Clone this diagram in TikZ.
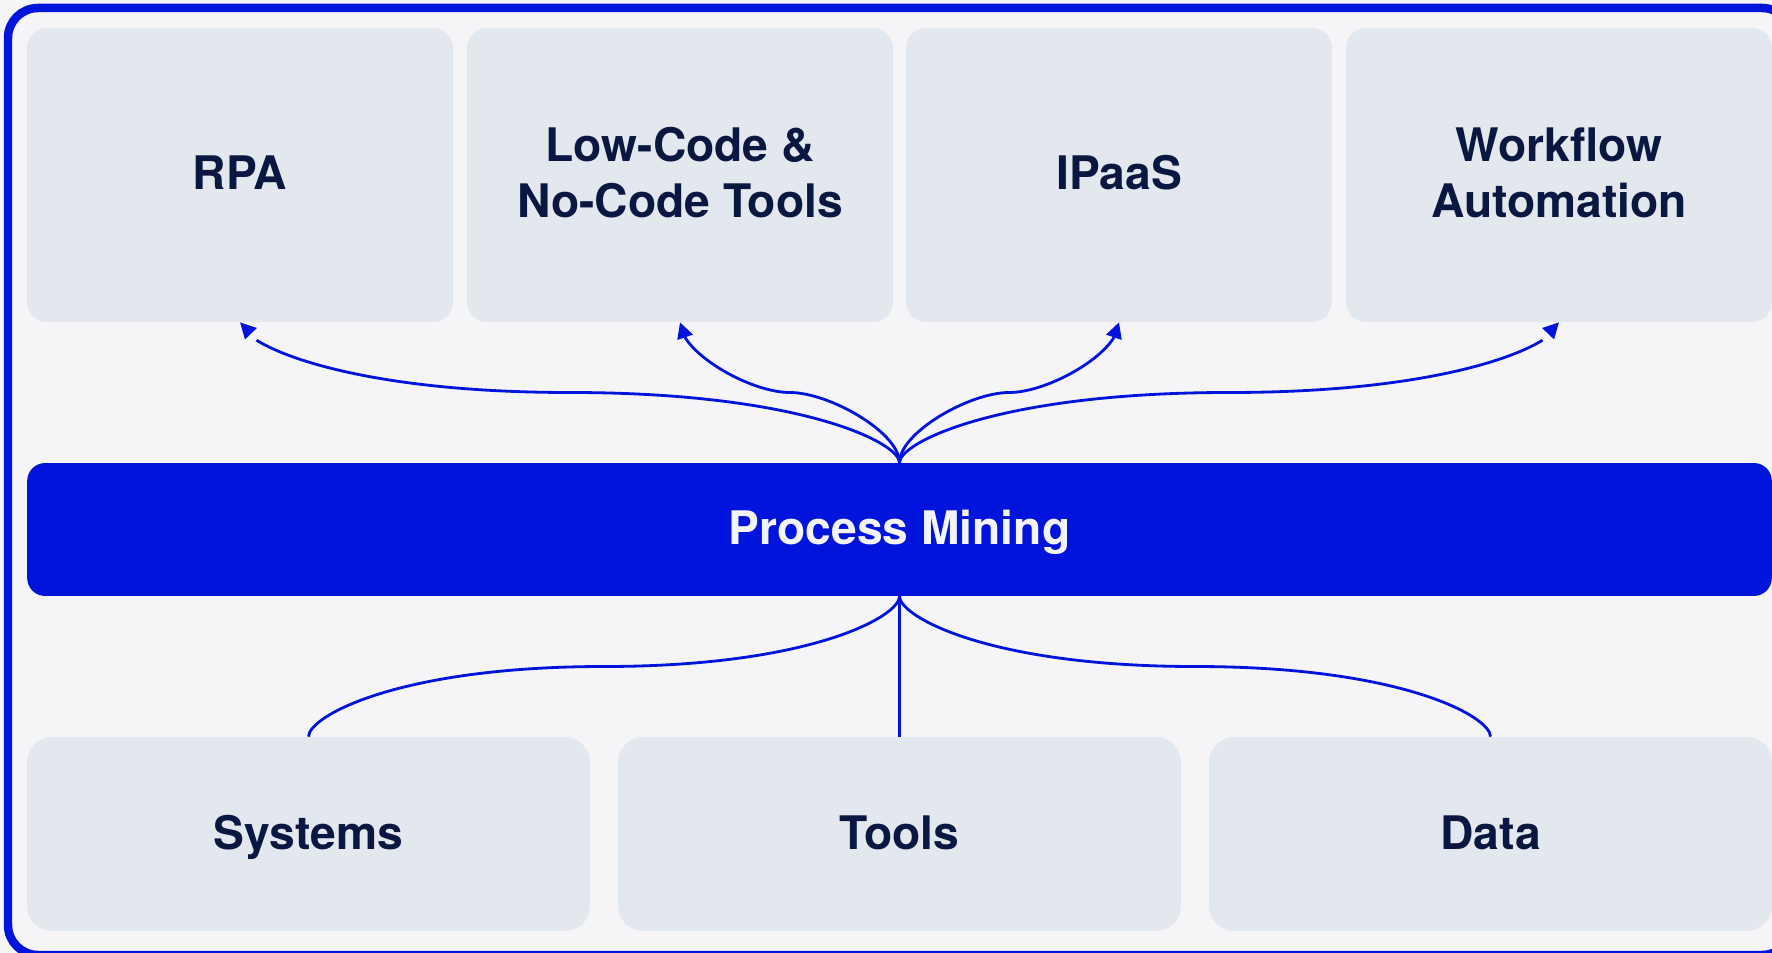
\documentclass[tikz,border=0pt]{standalone}
\usepackage{fontspec}
\setmainfont{TeX Gyre Heros}
\usetikzlibrary{arrows.meta,calc,bending}
\definecolor{bg}{HTML}{F5F4F7}
\definecolor{boxfill}{HTML}{E3E8EF}
\definecolor{mainblue}{HTML}{0014DC}
\definecolor{ink}{HTML}{0A1740}
\definecolor{paleink}{HTML}{F3F4F8}
\newcommand{\twolines}[2]{\raisebox{0pt}[50pt][1.4pt]{\begin{tabular}[b]{@{}c@{}}#1\\#2\end{tabular}}}
\begin{document}
\begin{tikzpicture}[x=0.02cm,y=-0.02cm,
  lbl/.style={font=\fontsize{26.3}{32.1}\selectfont\bfseries},
  oneline/.style={text height=19pt, text depth=2.9pt},
  midline/.style={text height=19pt, text depth=1.6pt},
  topbox/.style={lbl, fill=boxfill, rounded corners=0.4cm, minimum width=8.52cm, minimum height=5.88cm, inner sep=0pt, align=center, text=ink},
  botbox/.style={lbl, midline, fill=boxfill, rounded corners=0.5cm, minimum width=11.26cm, minimum height=3.88cm, inner sep=0pt, align=center, text=ink},
  barbox/.style={lbl, midline, fill=mainblue, rounded corners=0.36cm, minimum width=34.9cm, minimum height=2.66cm, inner sep=0pt, text=paleink},
  conn/.style={draw=mainblue, line width=1.6pt},
  arr/.style={conn, -{Triangle[length=9pt,width=9pt,flex]}},
]
\useasboundingbox (0,0) rectangle (1772,953);
\fill[bg] (0,0) rectangle (1772,953);
\begin{scope}
\clip (0,0) rectangle (1772,953);
\draw[mainblue, line width=0.17cm, rounded corners=0.6cm] (8,8) rectangle (1792,955);

\node[topbox, oneline] (rpa) at (240,175) {RPA};
\node[topbox] (lc) at (680,175) {\twolines{Low-Code \&}{No-Code Tools}};
\node[topbox, oneline] (ipaas) at (1119,175) {IPaaS};
\node[topbox] (wf) at (1559,175) {\twolines{Workflow}{Automation}};
\node[barbox] (pm) at (899.5,529.5) {Process Mining};
\node[botbox] (sys) at (308.5,834) {Systems};
\node[botbox] (tools) at (899.5,834) {Tools};
\node[botbox] (data) at (1490.5,834) {Data};

\coordinate (m1) at ($(pm.north)!0.5!(rpa.south)$);
\coordinate (m2) at ($(pm.north)!0.5!(lc.south)$);
\coordinate (m3) at ($(pm.north)!0.5!(ipaas.south)$);
\coordinate (m4) at ($(pm.north)!0.5!(wf.south)$);
\coordinate (m5) at ($(pm.south)!0.5!(sys.north)$);
\coordinate (m6) at ($(pm.south)!0.5!(data.north)$);

\draw[arr] (pm.north) .. controls +(0,-20) and +(231,0) .. (m1) .. controls +(-231,0) and +(0,20) .. (rpa.south);
\draw[arr] (pm.north) .. controls +(0,-30) and +(40,0) .. (m2) .. controls +(-40,0) and +(0,30) .. (lc.south);
\draw[arr] (pm.north) .. controls +(0,-30) and +(-40,0) .. (m3) .. controls +(40,0) and +(0,30) .. (ipaas.south);
\draw[arr] (pm.north) .. controls +(0,-20) and +(-231,0) .. (m4) .. controls +(231,0) and +(0,20) .. (wf.south);

\draw[conn] (pm.south) .. controls +(0,20) and +(207,0) .. (m5) .. controls +(-207,0) and +(0,-20) .. (sys.north);
\draw[conn] (pm.south) -- (tools.north);
\draw[conn] (pm.south) .. controls +(0,20) and +(-207,0) .. (m6) .. controls +(207,0) and +(0,-20) .. (data.north);
\end{scope}
\end{tikzpicture}
\end{document}
